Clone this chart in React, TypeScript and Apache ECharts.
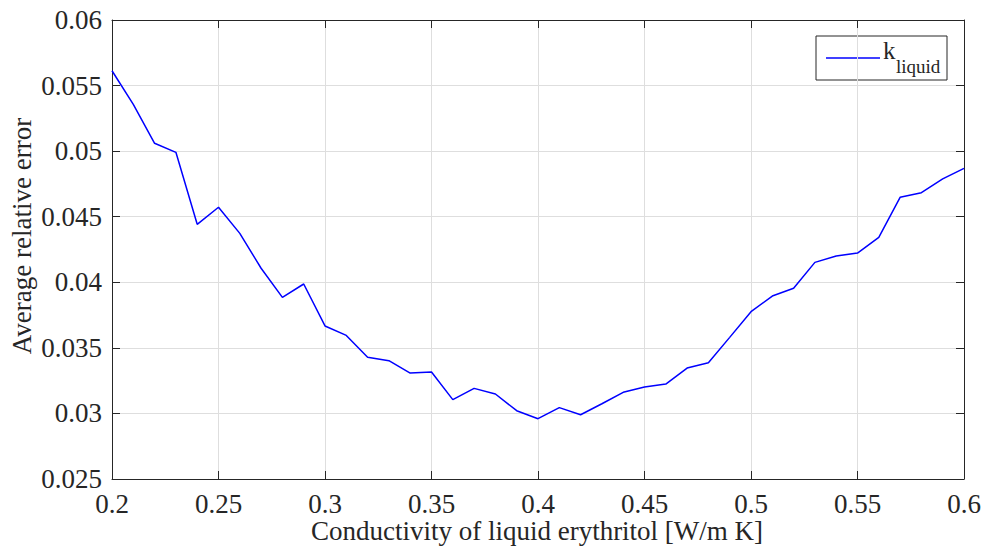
import React, { useEffect, useRef } from "react";
import * as echarts from "echarts";

// Conductivity of liquid erythritol [W/m K]
const conductivity = [
  0.2, 0.21, 0.22, 0.23, 0.24, 0.25, 0.26, 0.27, 0.28, 0.29,
  0.3, 0.31, 0.32, 0.33, 0.34, 0.35, 0.36, 0.37, 0.38, 0.39,
  0.4, 0.41, 0.42, 0.43, 0.44, 0.45, 0.46, 0.47, 0.48, 0.49,
  0.5, 0.51, 0.52, 0.53, 0.54, 0.55, 0.56, 0.57, 0.58, 0.59, 0.6,
];

// Average relative error for each conductivity
const avgRelError = [
  0.05613, 0.05357, 0.0506, 0.04991, 0.04442, 0.04572, 0.04373, 0.04107, 0.03885, 0.03987,
  0.03667, 0.03595, 0.03428, 0.03402, 0.03308, 0.03316, 0.03105, 0.03191, 0.03148, 0.03021,
  0.0296, 0.03044, 0.0299, 0.03074, 0.03161, 0.03201, 0.03224, 0.03346, 0.03387, 0.0358,
  0.03776, 0.03895, 0.03954, 0.04152, 0.042, 0.04223, 0.04343, 0.04648, 0.04683, 0.04788, 0.04869,
];

const seriesName = "k_liquid";
const xTitle = "Conductivity of liquid erythritol [W/m K]";
const yTitle = "Average relative error";

const FONT = "Liberation Serif";
const INK = "#262626";
const GRID = "#dedede";

const fmt = (v: number) => String(parseFloat(v.toFixed(4)));

export default function App() {
  const ref = useRef<HTMLDivElement>(null);

  useEffect(() => {
    if (!ref.current) return;
    const chart = echarts.init(ref.current, undefined, { renderer: "svg" });

    const axisCommon = {
      axisLine: { show: true, onZero: false, lineStyle: { color: INK, width: 1 } },
      axisTick: { show: true, inside: true, length: 8, lineStyle: { color: INK, width: 1 } },
    };

    chart.setOption({
      animation: false,
      backgroundColor: "#ffffff",
      grid: {
        left: 112,
        right: 19,
        top: 20,
        bottom: 70,
        containLabel: false,
        outerBoundsMode: "none",
      },
      xAxis: [
        {
          type: "value",
          position: "bottom",
          min: 0.2,
          max: 0.6,
          interval: 0.05,
          ...axisCommon,
          splitLine: { show: true, lineStyle: { color: GRID, width: 1 } },
          axisLabel: {
            color: INK,
            fontFamily: FONT,
            fontSize: 27,
            margin: 11,
            formatter: fmt,
          },
        },
        {
          type: "value",
          position: "top",
          min: 0.2,
          max: 0.6,
          interval: 0.05,
          ...axisCommon,
          splitLine: { show: false },
          axisLabel: { show: false },
        },
      ],
      yAxis: [
        {
          type: "value",
          position: "left",
          min: 0.025,
          max: 0.06,
          interval: 0.005,
          ...axisCommon,
          splitLine: { show: true, lineStyle: { color: GRID, width: 1 } },
          axisLabel: {
            color: INK,
            fontFamily: FONT,
            fontSize: 27,
            margin: 10,
            formatter: fmt,
          },
        },
        {
          type: "value",
          position: "right",
          min: 0.025,
          max: 0.06,
          interval: 0.005,
          ...axisCommon,
          splitLine: { show: false },
          axisLabel: { show: false },
        },
      ],
      series: [
        {
          name: seriesName,
          type: "line",
          data: conductivity.map((c, i) => [c, avgRelError[i]]),
          showSymbol: false,
          lineStyle: { color: "#0000ff", width: 1.5 },
          itemStyle: { color: "#0000ff" },
          z: 5,
        },
      ],
      graphic: [
        {
          type: "text",
          x: 537,
          y: 531,
          style: {
            text: xTitle,
            fill: INK,
            fontFamily: FONT,
            fontSize: 27,
            align: "center",
            verticalAlign: "middle",
          },
        },
        {
          type: "text",
          x: 22,
          y: 236,
          rotation: Math.PI / 2,
          style: {
            text: yTitle,
            fill: INK,
            fontFamily: FONT,
            fontSize: 27,
            align: "center",
            verticalAlign: "middle",
          },
        },
        {
          type: "group",
          z: 100,
          children: [
            {
              type: "rect",
              shape: { x: 816, y: 36, width: 131, height: 44 },
              style: { fill: "#ffffff", stroke: INK, lineWidth: 1 },
            },
            {
              type: "line",
              shape: { x1: 826, y1: 58, x2: 880, y2: 58 },
              style: { stroke: "#0000ff", lineWidth: 1.5 },
            },
            {
              type: "text",
              x: 883,
              y: 63,
              style: {
                text: "k",
                fill: INK,
                fontFamily: FONT,
                fontSize: 25,
                align: "left",
                verticalAlign: "bottom",
              },
            },
            {
              type: "text",
              x: 896,
              y: 76,
              style: {
                text: "liquid",
                fill: INK,
                fontFamily: FONT,
                fontSize: 19,
                align: "left",
                verticalAlign: "bottom",
              },
            },
          ],
        },
      ],
    });

    return () => chart.dispose();
  }, []);

  return (
    <div
      ref={ref}
      style={{ position: "fixed", left: 0, top: 0, width: 983, height: 549 }}
    />
  );
}
